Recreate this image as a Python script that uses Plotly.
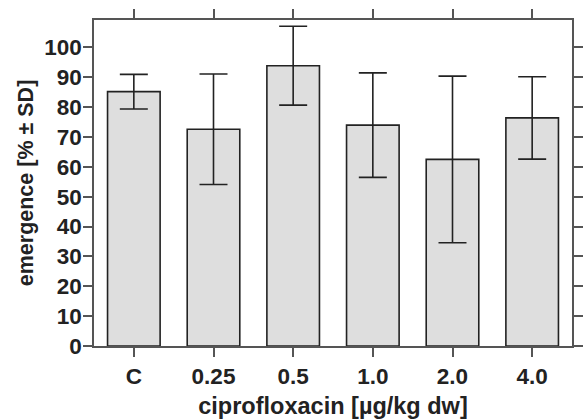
import plotly.graph_objects as go

# Emergence per ciprofloxacin treatment (mean and SD, %)
categories = ["C", "0.25", "0.5", "1.0", "2.0", "4.0"]
emergence_mean = [85.2, 72.6, 93.9, 74.0, 62.5, 76.4]
emergence_sd = [5.8, 18.5, 13.2, 17.5, 27.9, 13.8]
y_ticks = [0, 10, 20, 30, 40, 50, 60, 70, 80, 90, 100]

axis_color = "#555555"
ink = "#222222"
font_family = "Liberation Sans, Arial, Helvetica, sans-serif"

fig = go.Figure(
    go.Bar(
        x=categories,
        y=emergence_mean,
        width=0.66,
        marker=dict(color="#dedede", line=dict(color=ink, width=1.6)),
        error_y=dict(
            type="data",
            array=emergence_sd,
            visible=True,
            color=ink,
            thickness=1.6,
            width=14,
        ),
        showlegend=False,
    )
)

fig.update_layout(
    width=587,
    height=419,
    margin=dict(l=94, r=4, t=20, b=73),
    plot_bgcolor="white",
    paper_bgcolor="white",
    font=dict(family=font_family, color=ink),
    bargap=0.34,
)

fig.update_xaxes(
    type="category",
    range=[-0.5, 5.5],
    showline=True,
    linecolor=axis_color,
    linewidth=1.6,
    mirror="ticks",
    ticks="outside",
    ticklen=9,
    tickwidth=1.6,
    tickcolor=axis_color,
    tickfont=dict(size=22.5, family=font_family, color=ink, weight="bold"),
    showgrid=False,
    title=dict(
        text="ciprofloxacin [µg/kg dw]",
        font=dict(size=23.5, family=font_family, color=ink, weight="bold"),
        standoff=10,
    ),
)

fig.update_yaxes(
    range=[0, 109.2],
    tickvals=y_ticks,
    showline=True,
    linecolor=axis_color,
    linewidth=1.6,
    mirror="ticks",
    ticks="outside",
    ticklen=9,
    tickwidth=1.6,
    tickcolor=axis_color,
    ticklabelstandoff=-3,
    tickfont=dict(size=22.5, family=font_family, color=ink, weight="bold"),
    showgrid=False,
    zeroline=False,
    title=dict(
        text="emergence [% ± SD]",
        font=dict(size=21.5, family=font_family, color=ink, weight="bold"),
        standoff=5,
    ),
)

fig.write_html("out.html")
